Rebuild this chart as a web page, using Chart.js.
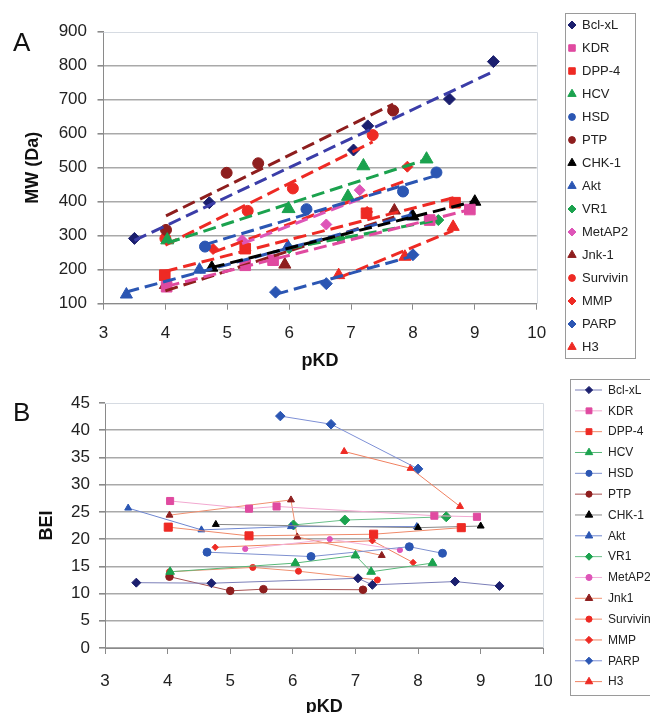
<!DOCTYPE html>
<html>
<head>
<meta charset="utf-8">
<script src="https://cdn.jsdelivr.net/npm/chart.js@4.4.0/dist/chart.umd.min.js"></script>
<style>
  html, body { margin: 0; padding: 0; background: #fff; width: 650px; height: 713px; overflow: hidden; }
  #wrapA { position: absolute; left: 0; top: 0; width: 650px; height: 372px; }
  #wrapB { position: absolute; left: 0; top: 372px; width: 700px; height: 350px; }
  .panel { position: absolute; font: 26px/26px "Liberation Sans", Arial, sans-serif; color: #111; }
</style>
</head>
<body>
<div id="wrapA"><canvas id="chartA" width="650" height="372"></canvas></div>
<div id="wrapB"><canvas id="chartB" width="700" height="350"></canvas></div>
<div class="panel" style="left:13px;top:29px;">A</div>
<div class="panel" style="left:13px;top:399px;">B</div>
<script>
// target names (panel B spells Jnk1 without the dash)
const labelsA = ['Bcl-xL', 'KDR', 'DPP-4', 'HCV', 'HSD', 'PTP', 'CHK-1', 'Akt', 'VR1', 'MetAP2', 'Jnk-1', 'Survivin', 'MMP', 'PARP', 'H3'];
const labelsB = ['Bcl-xL', 'KDR', 'DPP-4', 'HCV', 'HSD', 'PTP', 'CHK-1', 'Akt', 'VR1', 'MetAP2', 'Jnk1', 'Survivin', 'MMP', 'PARP', 'H3'];

// axis ticks
const pkdTicks = [3, 4, 5, 6, 7, 8, 9, 10];
const mwTicks = [100, 200, 300, 400, 500, 600, 700, 800, 900];
const beiTicks = [0, 5, 10, 15, 20, 25, 30, 35, 40, 45];

// panel A: [pKD, MW (Da)]
const bclxlA = [[3.50, 292], [4.71, 397], [7.04, 552], [7.27, 623], [8.59, 702], [9.30, 812]];
const kdrA = [[4.02, 150], [5.29, 213], [5.74, 228], [8.27, 346], [8.92, 377]];
const dpp4A = [[3.99, 184], [5.29, 262], [7.25, 366], [8.68, 397]];
const hcvA = [[4.03, 287], [5.99, 379], [6.95, 415], [7.20, 505], [8.22, 525]];
const hsdA = [[4.64, 268], [6.28, 378], [7.84, 430], [8.38, 486]];
const ptpA = [[4.01, 317], [4.99, 485], [5.50, 513], [7.68, 668]];
const chk1A = [[4.75, 206], [8.00, 357], [9.00, 400]];
const aktA = [[3.37, 127], [4.55, 200], [5.98, 268], [7.98, 357]];
const vr1A = [[6.00, 263], [6.82, 292], [8.41, 346]];
const metap2A = [[5.24, 287], [6.60, 333], [7.14, 434]];
const jnk1A = [[4.00, 155], [5.93, 215], [7.70, 374]];
const survivinA = [[4.00, 292], [5.33, 373], [6.06, 439], [7.35, 596]];
const mmpA = [[4.77, 261], [7.26, 370], [7.91, 503]];
const parpA = [[5.78, 134], [6.60, 159], [8.00, 244]];
const h3A = [[6.80, 184], [7.87, 238], [8.65, 326]];

// panel B: [pKD, BEI]
const bclxlB = [[3.50, 12.0], [4.70, 11.9], [7.04, 12.8], [7.27, 11.6], [8.59, 12.2], [9.30, 11.4]];
const kdrB = [[4.04, 27.0], [5.30, 25.6], [5.74, 26.0], [8.26, 24.3], [8.94, 24.1]];
const dpp4B = [[4.01, 22.2], [5.30, 20.6], [7.29, 20.9], [8.69, 22.1]];
const hcvB = [[4.04, 14.0], [6.04, 15.6], [7.00, 17.0], [7.25, 14.0], [8.23, 15.6]];
const hsdB = [[4.63, 17.6], [6.29, 16.8], [7.86, 18.6], [8.39, 17.4]];
const ptpB = [[4.03, 13.1], [5.00, 10.5], [5.53, 10.8], [7.12, 10.7]];
const chk1B = [[4.77, 22.7], [8.00, 22.1], [9.00, 22.4]];
const aktB = [[3.37, 25.7], [4.54, 21.7], [5.97, 22.3], [7.98, 22.3]];
const vr1B = [[6.01, 22.6], [6.83, 23.5], [8.45, 24.1]];
const metap2B = [[5.24, 18.2], [6.59, 20.0], [7.71, 18.0]];
const jnk1B = [[4.03, 24.4], [5.97, 27.2], [6.07, 20.4], [7.42, 17.0]];
const survivinB = [[4.03, 14.0], [5.36, 14.8], [6.09, 14.1], [7.35, 12.5]];
const mmpB = [[4.76, 18.5], [7.27, 19.7], [7.92, 15.7]];
const parpB = [[5.80, 42.6], [6.61, 41.1], [8.00, 32.9]];
const h3B = [[6.82, 36.1], [7.88, 33.0], [8.67, 26.0]];

const seriesA = [bclxlA, kdrA, dpp4A, hcvA, hsdA, ptpA, chk1A, aktA, vr1A, metap2A, jnk1A, survivinA, mmpA, parpA, h3A];
const seriesB = [bclxlB, kdrB, dpp4B, hcvB, hsdB, ptpB, chk1B, aktB, vr1B, metap2B, jnk1B, survivinB, mmpB, parpB, h3B];

// styles
const NAVY = '#1b1f6e', PINK = '#e04aa0', RED = '#ee2a24', GREEN = '#1ba24e',
      BLUE = '#2b56b3', DRED = '#8e1e1e', BLACK = '#000000', MAG = '#de55b8';
const markerColors = [NAVY, PINK, RED, GREEN, BLUE, DRED, BLACK, BLUE, GREEN, MAG, DRED, RED, RED, BLUE, RED];
const trendColors = ['#3b3da8', PINK, RED, GREEN, BLUE, DRED, BLACK, BLUE, GREEN, MAG, DRED, RED, RED, BLUE, RED];
const lineColorsB = ['#7b7fb8', '#f2a8d0', '#f08a6a', '#58b878', '#7e90cf', '#a85050', '#888888', '#6e86d0',
                     '#6cc08a', '#f2b0da', '#f09070', '#f09070', '#f08060', '#7e90d6', '#f08060'];
const shapesA = ['rectRot', 'rect', 'rect', 'triangle', 'circle', 'circle', 'triangle', 'triangle', 'rectRot', 'rectRot', 'triangle', 'circle', 'rectRot', 'rectRot', 'triangle'];
const shapesB = ['rectRot', 'rect', 'rect', 'triangle', 'circle', 'circle', 'triangle', 'triangle', 'rectRot', 'circle', 'triangle', 'circle', 'rectRot', 'rectRot', 'triangle'];
const radiiA = [6, 7.5, 7.5, 7.5, 5.5, 5.5, 7, 7, 5.5, 5.5, 7, 5.5, 5.5, 6, 7];
const radiiB = [4.5, 5, 5.7, 5, 4, 3.8, 4, 4, 5, 2.6, 4, 3, 3.2, 4.8, 4];
const legendRadius = { rectRot: 4, rect: 4.6, triangle: 4.8, circle: 3.4 };

const FONT = '"Liberation Sans", Arial, sans-serif';

// least squares line over the series' pKD range (Excel linear trendline)
function trendLine(pts) {
  const n = pts.length;
  let sx = 0, sy = 0, sxx = 0, sxy = 0;
  pts.forEach(([x, y]) => { sx += x; sy += y; sxx += x * x; sxy += x * y; });
  const b = (n * sxy - sx * sy) / (n * sxx - sx * sx);
  const a = (sy - b * sx) / n;
  const xs = pts.map(p => p[0]);
  const x0 = Math.min(...xs), x1 = Math.max(...xs);
  return [{ x: x0, y: a + b * x0 }, { x: x1, y: a + b * x1 }];
}

// light frame on top and right of the plot area
const frame = {
  id: 'frame',
  beforeDatasetsDraw(chart) {
    const { ctx, chartArea: a } = chart;
    ctx.save();
    ctx.strokeStyle = '#d6dbe2';
    ctx.lineWidth = 1;
    ctx.beginPath();
    ctx.moveTo(a.left, Math.round(a.top) + 0.5);
    ctx.lineTo(Math.round(a.right) + 0.5, Math.round(a.top) + 0.5);
    ctx.lineTo(Math.round(a.right) + 0.5, a.bottom);
    ctx.stroke();
    ctx.restore();
  }
};

// boxed legend like the original spreadsheet one
const boxLegend = {
  id: 'boxLegend',
  afterDraw(chart, args, opts) {
    const ctx = chart.ctx;
    ctx.save();
    ctx.strokeStyle = '#9a9a9a';
    ctx.lineWidth = 1;
    ctx.strokeRect(opts.x, opts.y, opts.w, opts.h);
    ctx.font = opts.font;
    ctx.textBaseline = 'middle';
    opts.labels.forEach((label, i) => {
      const ds = chart.data.datasets[i];
      const y = opts.firstY + i * opts.step;
      if (opts.lineX0 !== undefined) {
        ctx.strokeStyle = ds.borderColor;
        ctx.lineWidth = 1;
        ctx.beginPath();
        ctx.moveTo(opts.lineX0, y);
        ctx.lineTo(opts.lineX1, y);
        ctx.stroke();
      }
      ctx.fillStyle = markerColors[i];
      ctx.strokeStyle = markerColors[i];
      Chart.helpers.drawPoint(ctx, {
        pointStyle: ds.pointStyle,
        radius: legendRadius[ds.pointStyle] * opts.scale,
        borderWidth: 1
      }, opts.markerX, y);
      ctx.fillStyle = '#222';
      ctx.fillText(label, opts.textX, y + 0.5);
    });
    ctx.restore();
  }
};

function gridColor(max) {
  return c => (c.tick && c.tick.value === max) ? 'rgba(0,0,0,0)' : '#a9a9a9';
}

function scales(yTicks, xTitlePad, xLabelPad, yWidth, xHeight, yTitle, yLabelPad) {
  const ymax = yTicks[yTicks.length - 1];
  return {
    x: {
      type: 'linear', min: pkdTicks[0], max: pkdTicks[pkdTicks.length - 1],
      afterBuildTicks: s => { s.ticks = pkdTicks.map(v => ({ value: v })); },
      afterFit: s => { s.height = xHeight; },
      grid: { drawOnChartArea: false, drawTicks: true, tickLength: 6, color: '#8a8a8a' },
      border: { display: true, color: '#8a8a8a', width: 1 },
      ticks: { color: '#222', font: { family: FONT, size: 17 }, padding: xLabelPad },
      title: { display: true, text: 'pKD', color: '#111', font: { family: FONT, size: 18, weight: 'bold' }, padding: { top: 0, bottom: xTitlePad } }
    },
    y: {
      type: 'linear', min: yTicks[0], max: ymax,
      afterBuildTicks: s => { s.ticks = yTicks.map(v => ({ value: v })); },
      afterFit: s => { s.width = yWidth; },
      grid: { color: gridColor(ymax), lineWidth: 1.6, drawTicks: true, tickLength: 6, tickColor: '#8a8a8a' },
      border: { display: true, color: '#8a8a8a', width: 1 },
      ticks: { color: '#222', font: { family: FONT, size: 17 }, padding: yLabelPad },
      title: { display: true, text: yTitle, color: '#111', font: { family: FONT, size: 18, weight: 'bold' }, padding: { top: 4, bottom: 0 } }
    }
  };
}

// ---------- panel A ----------
const datasetsA = [];
seriesA.forEach((pts, i) => {
  datasetsA.push({
    label: labelsA[i],
    data: pts.map(p => ({ x: p[0], y: p[1] })),
    showLine: false,
    pointStyle: shapesA[i],
    pointRadius: radiiA[i],
    pointHoverRadius: radiiA[i],
    backgroundColor: markerColors[i],
    borderColor: markerColors[i],
    borderWidth: 1
  });
});
seriesA.forEach((pts, i) => {
  datasetsA.push({
    label: labelsA[i] + ' trend',
    data: trendLine(pts),
    showLine: true,
    pointRadius: 0,
    borderColor: trendColors[i],
    borderWidth: 3,
    borderDash: [13, 6],
    fill: false,
    order: -1
  });
});

new Chart(document.getElementById('chartA').getContext('2d'), {
  type: 'scatter',
  data: { datasets: datasetsA },
  options: {
    responsive: false,
    animation: false,
    devicePixelRatio: 1,
    layout: { padding: { left: 18, right: 113.3, top: 31.7, bottom: 0 } },
    scales: scales(mwTicks, 0, 13, 85.5, 68.3, 'MW (Da)', 10.5),
    plugins: {
      legend: { display: false },
      tooltip: { enabled: false },
      boxLegend: {
        labels: labelsA, x: 565.5, y: 13.5, w: 70, h: 345,
        firstY: 25, step: 23, markerX: 572, textX: 582, scale: 1,
        font: '13px ' + FONT
      }
    }
  },
  plugins: [frame, boxLegend]
});

// ---------- panel B ----------
const datasetsB = seriesB.map((pts, i) => ({
  label: labelsB[i],
  data: pts.map(p => ({ x: p[0], y: p[1] })),
  showLine: true,
  borderColor: lineColorsB[i],
  borderWidth: 1,
  pointStyle: shapesB[i],
  pointRadius: radiiB[i],
  pointHoverRadius: radiiB[i],
  pointBackgroundColor: markerColors[i],
  pointBorderColor: markerColors[i],
  pointBorderWidth: 1,
  backgroundColor: markerColors[i]
}));

new Chart(document.getElementById('chartB').getContext('2d'), {
  type: 'scatter',
  data: { datasets: datasetsB },
  options: {
    responsive: false,
    animation: false,
    devicePixelRatio: 1,
    layout: { padding: { left: 32.2, right: 156.7, top: 31, bottom: 0 } },
    scales: scales(beiTicks, 4, 17, 72.8, 74, 'BEI', 9),
    plugins: {
      legend: { display: false },
      tooltip: { enabled: false },
      boxLegend: {
        labels: labelsB, x: 570.5, y: 7.5, w: 100, h: 316,
        firstY: 18, step: 20.83, markerX: 589, lineX0: 575, lineX1: 602, textX: 608, scale: 0.9,
        font: '12px ' + FONT
      }
    }
  },
  plugins: [frame, boxLegend]
});
</script>
</body>
</html>
